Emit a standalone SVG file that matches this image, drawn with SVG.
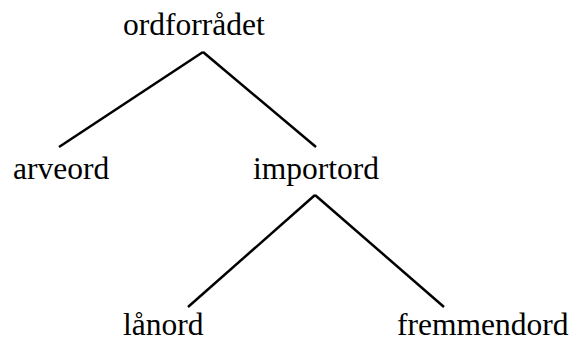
<svg xmlns="http://www.w3.org/2000/svg" width="570" height="343" viewBox="0 0 570 343">
<style>
text{font-family:"Liberation Serif","Times New Roman",serif;font-size:31.5px;fill:#000}
.c line{stroke:#000;stroke-width:2.5;stroke-linecap:butt}
</style>
<rect width="570" height="343" fill="#fff"/>
<g class="c" id="connectors">
<line x1="203" y1="52" x2="59" y2="147"/>
<line x1="203" y1="52" x2="316" y2="147"/>
<line x1="315" y1="195" x2="188" y2="307"/>
<line x1="315" y1="195" x2="444" y2="307"/>
</g>
<g id="ordforradet"><text x="123" y="35">ordforrådet</text></g>
<g id="arveord"><text x="13" y="179">arveord</text></g>
<g id="importord"><text x="253" y="179">importord</text></g>
<g id="lanord"><text x="123" y="335">lånord</text></g>
<g id="fremmendord"><text x="397" y="335">fremmendord</text></g>
</svg>
